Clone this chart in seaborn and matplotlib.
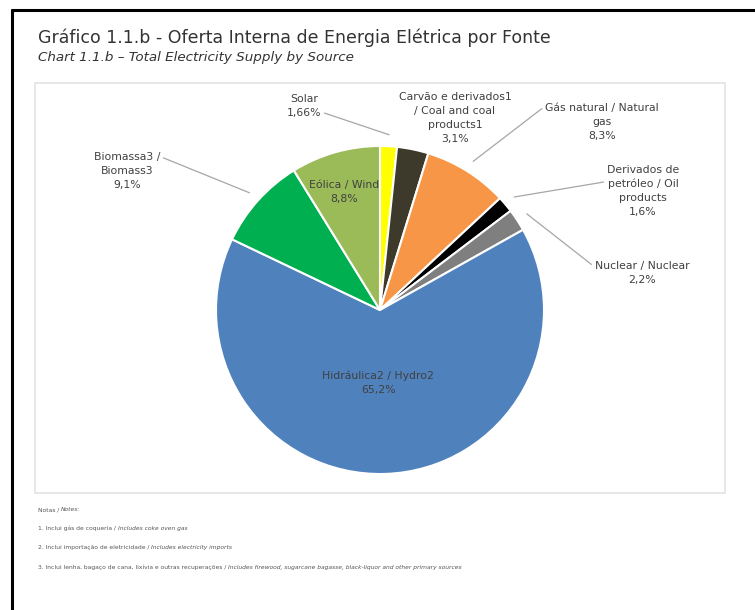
import numpy as np
import matplotlib.pyplot as plt
import seaborn as sns
from matplotlib.patches import Rectangle
from matplotlib.lines import Line2D

# data (clockwise from 12 o'clock)
sources = [
    "Solar",
    "Carvão e derivados1\n/ Coal and coal\nproducts1",
    "Gás natural / Natural\ngas",
    "Derivados de\npetróleo / Oil\nproducts",
    "Nuclear / Nuclear",
    "Hidráulica2 / Hydro2",
    "Biomassa3 /\nBiomass3",
    "Eólica / Wind",
]
shares = [1.66, 3.1, 8.3, 1.6, 2.2, 65.2, 9.1, 8.8]
share_labels = ["1,66%", "3,1%", "8,3%", "1,6%", "2,2%", "65,2%", "9,1%", "8,8%"]
colors = ["#FFFF00", "#3D3A2B", "#F79646", "#000000", "#7F7F7F",
          "#4F81BD", "#00B050", "#9BBB59"]

# label layout, in pixels from top-left of the image; None = no leader line
label_pos = [(304, 106), (455, 118), (602, 122), (643, 191),
             (642, 273), (378, 383), (127, 171), (344, 192)]
leader_relpos = [(1.0, 0.25), None, (0.0, 0.92), (0.0, 0.68),
                 (0.0, 0.75), None, (1.0, 0.88), None]

W, H = 755, 610
sns.set_theme(style="white")
plt.rcParams["font.family"] = ["DejaVu Sans"]
NARROW = ["Liberation Sans Narrow", "DejaVu Sans"]

fig = plt.figure(figsize=(W / 100, H / 100), dpi=100)
ax = fig.add_axes([0, 0, 1, 1])


def py(y):
    return H - y


cx, cy, r = 380, 310, 164
wedges, _ = ax.pie(
    shares,
    colors=sns.color_palette(colors),
    startangle=90,
    counterclock=False,
    center=(cx, py(cy)),
    radius=r,
    frame=True,
    wedgeprops=dict(edgecolor="white", linewidth=1.5),
)
ax.set_xlim(0, W)
ax.set_ylim(0, H)
ax.set_aspect("equal")
ax.axis("off")

for w, name, pct, pos, rel in zip(wedges, sources, share_labels, label_pos, leader_relpos):
    mid = np.deg2rad((w.theta1 + w.theta2) / 2)
    tip = (cx + 1.07 * r * np.cos(mid), py(cy) + 1.07 * r * np.sin(mid))
    arrow = None
    if rel is not None:
        arrow = dict(arrowstyle="-", color="#A6A6A6", lw=0.9, relpos=rel,
                     shrinkA=0, shrinkB=0)
    ax.annotate(f"{name}\n{pct}", xy=tip, xytext=(pos[0], py(pos[1])),
                ha="center", va="center", fontsize=7.8, color="#404040",
                linespacing=1.5, arrowprops=arrow)

# frames
fig.add_artist(Line2D([12 / W, 12 / W], [0, py(10) / H], color="black", lw=2.2))
fig.add_artist(Line2D([12 / W, 1], [py(10) / H, py(10) / H], color="black", lw=2.2))
fig.add_artist(Rectangle((35 / W, py(493) / H), (725 - 35) / W, (493 - 83) / H,
                         fill=False, edgecolor="#E3E3E3", lw=1.2))

# titles
fig.text(38 / W, py(38) / H, "Gráfico 1.1.b - Oferta Interna de Energia Elétrica por Fonte",
         fontsize=12.5, color="#333333", va="center")
fig.text(38 / W, py(58) / H, "Chart 1.1.b – Total Electricity Supply by Source",
         fontsize=9.7, style="italic", color="#333333", va="center")

# notes (portuguese part upright, english part italic)
notes = [
    ("Notas / ", "Notes:"),
    ("1. Inclui gás de coqueria / ", "Includes coke oven gas"),
    ("2. Inclui importação de eletricidade / ", "Includes electricity imports"),
    ("3. Inclui lenha, bagaço de cana, lixívia e outras recuperações / ",
     "Includes firewood, sugarcane bagasse, black-liquor and other primary sources"),
]
note_y = [512, 531, 550, 570]
for (pt, en), y in zip(notes, note_y):
    t = fig.text(38 / W, py(y) / H, pt, fontsize=4.3, color="#555555", va="bottom",
                 family=NARROW)
    ax.annotate(en, xy=(1, 0), xycoords=t, va="bottom", ha="left",
                fontsize=4.3, color="#555555", style="italic", family=NARROW)

fig.savefig("out.png", dpi=100)
